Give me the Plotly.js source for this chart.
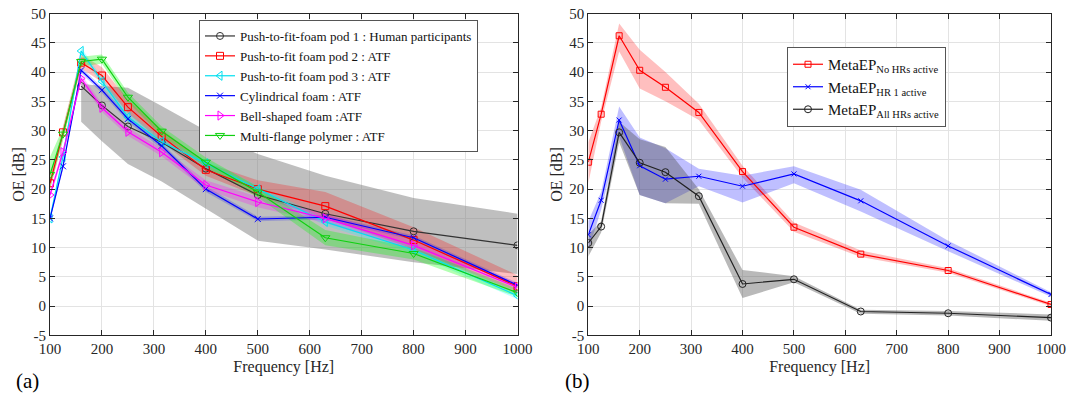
<!DOCTYPE html>
<html>
<head>
<meta charset="utf-8">
<script src="https://cdn.plot.ly/plotly-3.0.1.min.js"></script>
<style>html,body{margin:0;padding:0;background:#fff;}#chart{width:1069px;height:403px;}</style>
</head>
<body>
<div id="chart"></div>
<script>
// Frequencies (Hz)
const freq = [100, 125, 160, 200, 250, 315, 400, 500, 630, 800, 1000];
const freqHuman = [160, 200, 250, 315, 400, 500, 630, 800, 1000];

// Panel (a)
const humanMean  = [37.6, 34.3, 30.7, 28.0, 23.5, 19.0, 15.8, 12.8, 10.4];
const humanUpper = [38.0, 37.6, 37.3, 34.2, 30.0, 26.0, 22.3, 18.5, 15.8];
const humanLower = [31.5, 28.2, 24.3, 21.3, 16.6, 11.2, 9.7, 7.5, 5.5];

const pod2Mean  = [21.0, 29.7, 41.6, 39.4, 34.0, 29.0, 23.3, 20.0, 17.1, 11.3, 3.4];
const pod2Upper = [22.0, 30.7, 43.0, 40.8, 35.3, 30.2, 24.5, 21.5, 19.5, 13.5, 5.3];
const pod2Lower = [20.0, 28.7, 40.6, 38.3, 33.0, 28.0, 22.3, 18.8, 15.0, 9.8, 2.0];

const pod3Mean  = [15.0, 25.5, 43.6, 38.4, 32.3, 28.1, 24.4, 20.0, 14.4, 9.6, 1.8];
const pod3Upper = [15.5, 26.2, 44.2, 39.1, 33.0, 28.7, 25.0, 20.6, 15.0, 10.2, 2.4];
const pod3Lower = [14.5, 24.8, 43.0, 37.7, 31.6, 27.5, 23.8, 19.4, 13.8, 9.0, 1.2];

const cylMean  = [15.0, 23.9, 40.3, 36.9, 32.0, 27.4, 20.0, 14.9, 15.2, 11.7, 3.6];
const cylUpper = [15.4, 24.4, 40.8, 37.4, 32.5, 27.9, 20.5, 15.3, 15.6, 12.1, 4.0];
const cylLower = [14.6, 23.4, 39.8, 36.4, 31.5, 26.9, 19.5, 14.5, 14.8, 11.3, 3.2];

const bellMean  = [19.0, 26.3, 38.9, 33.9, 29.8, 26.3, 20.7, 17.8, 15.0, 10.4, 3.2];
const bellUpper = [19.7, 27.0, 39.6, 34.6, 30.5, 27.0, 21.5, 18.7, 15.8, 11.1, 3.9];
const bellLower = [18.3, 25.6, 38.2, 33.2, 29.1, 25.6, 19.9, 16.9, 14.2, 9.7, 2.5];

const flangeMean  = [22.5, 29.4, 41.8, 42.2, 35.7, 29.9, 24.6, 19.5, 11.7, 9.0, 2.3];
const flangeUpper = [25.5, 30.5, 42.6, 43.0, 36.5, 30.7, 25.4, 20.4, 13.0, 10.0, 3.0];
const flangeLower = [20.0, 28.3, 41.0, 41.4, 34.9, 29.1, 23.8, 18.6, 10.4, 8.0, 1.6];

// Panel (b)
const noHRMean  = [24.6, 32.8, 46.2, 40.3, 37.4, 33.1, 23.0, 13.5, 8.9, 6.1, 0.3];
const noHRUpper = [28.0, 34.0, 48.3, 43.8, 40.0, 34.6, 24.0, 14.3, 9.5, 6.5, 0.6];
const noHRLower = [21.0, 31.5, 43.5, 37.2, 35.0, 31.8, 22.0, 12.7, 8.4, 5.7, 0.0];

const hr1Mean  = [12.2, 18.1, 31.8, 24.0, 21.7, 22.2, 20.5, 22.6, 18.0, 10.3, 2.0];
const hr1Upper = [14.5, 19.5, 34.1, 28.8, 27.0, 23.5, 22.3, 23.9, 19.9, 11.2, 2.4];
const hr1Lower = [9.5, 16.5, 29.0, 19.0, 17.6, 20.5, 17.7, 21.0, 16.2, 9.4, 1.6];

const allHRMean  = [10.8, 13.6, 29.7, 24.5, 22.9, 18.8, 3.8, 4.6, -0.9, -1.2, -1.95];
const allHRUpper = [12.2, 14.5, 31.5, 28.5, 27.2, 20.0, 6.2, 5.1, -0.6, -0.8, -1.4];
const allHRLower = [8.5, 12.6, 28.0, 19.0, 17.6, 17.5, 1.4, 4.1, -1.3, -1.6, -2.5];

const xTicks = [100, 200, 300, 400, 500, 600, 700, 800, 900, 1000];
const yTicks = [-5, 0, 5, 10, 15, 20, 25, 30, 35, 40, 45, 50];

const FONT = 'Liberation Serif';
const AX = '#262626';

function band(x, up, lo, color, xa, ya) {
  return {
    x: x.concat(x.slice().reverse()),
    y: up.concat(lo.slice().reverse()),
    xaxis: xa, yaxis: ya,
    type: 'scatter', mode: 'lines', fill: 'toself',
    fillcolor: color, line: {width: 0}, hoverinfo: 'skip', showlegend: false
  };
}
function line(x, y, name, color, symbol, xa, ya, leg, msize) {
  return {
    x: x, y: y, name: name, xaxis: xa, yaxis: ya, legend: leg,
    type: 'scatter', mode: 'lines+markers',
    line: {color: color, width: 1.2},
    marker: {symbol: symbol, size: msize || 7, color: color, line: {color: color, width: 1}}
  };
}

const traces = [
  band(freqHuman, humanUpper, humanLower, 'rgba(128,128,128,0.5)', 'x', 'y'),
  band(freq, pod2Upper, pod2Lower, 'rgba(255,0,0,0.25)', 'x', 'y'),
  band(freq, pod3Upper, pod3Lower, 'rgba(0,255,255,0.25)', 'x', 'y'),
  band(freq, cylUpper, cylLower, 'rgba(0,0,255,0.2)', 'x', 'y'),
  band(freq, bellUpper, bellLower, 'rgba(255,0,255,0.25)', 'x', 'y'),
  band(freq, flangeUpper, flangeLower, 'rgba(0,255,0,0.3)', 'x', 'y'),
  line(freqHuman, humanMean, 'Push-to-fit-foam pod 1 : Human participants', '#333333', 'circle-open', 'x', 'y', 'legend'),
  line(freq, pod2Mean, 'Push-to-fit foam pod 2 : ATF', '#ff0000', 'square-open', 'x', 'y', 'legend'),
  line(freq, pod3Mean, 'Push-to-fit foam pod 3 : ATF', '#00e0f0', 'triangle-left-open', 'x', 'y', 'legend', 8),
  line(freq, cylMean, 'Cylindrical foam : ATF', '#0000ff', 'x-thin-open', 'x', 'y', 'legend', 6),
  line(freq, bellMean, 'Bell-shaped foam :ATF', '#ff00ff', 'triangle-right-open', 'x', 'y', 'legend', 8),
  line(freq, flangeMean, 'Multi-flange polymer : ATF', '#10d010', 'triangle-down-open', 'x', 'y', 'legend', 8),

  band(freq, noHRUpper, noHRLower, 'rgba(255,0,0,0.25)', 'x2', 'y2'),
  band(freq, hr1Upper, hr1Lower, 'rgba(0,0,255,0.25)', 'x2', 'y2'),
  band(freq, allHRUpper, allHRLower, 'rgba(80,80,80,0.4)', 'x2', 'y2'),
  line(freq, noHRMean, 'MetaEP<sub>No HRs active</sub>', '#ff0000', 'square-open', 'x2', 'y2', 'legend2', 6),
  line(freq, hr1Mean, 'MetaEP<sub>HR 1 active</sub>', '#0000ff', 'x-thin-open', 'x2', 'y2', 'legend2', 5),
  line(freq, allHRMean, 'MetaEP<sub>All HRs active</sub>', '#222222', 'circle-open', 'x2', 'y2', 'legend2', 7)
];

function xax(domain, anchor) {
  return {
    domain: domain, anchor: anchor, range: [100, 1000],
    tickvals: xTicks, ticktext: xTicks.map(String),
    ticks: 'inside', ticklen: 5, tickcolor: AX, mirror: 'ticks',
    showline: true, linecolor: AX, linewidth: 1,
    showgrid: true, gridcolor: '#e3e3e3', zeroline: false,
    tickfont: {family: FONT, size: 15, color: AX},
    title: {text: 'Frequency [Hz]', font: {family: FONT, size: 16, color: AX}, standoff: 4}
  };
}
function yax(anchor) {
  return {
    domain: [0.1675, 0.9665], anchor: anchor, range: [-5, 50],
    tickvals: yTicks, ticktext: yTicks.map(String),
    ticks: 'inside', ticklen: 5, tickcolor: AX, mirror: 'ticks',
    showline: true, linecolor: AX, linewidth: 1,
    showgrid: true, gridcolor: '#e3e3e3', zeroline: false,
    tickfont: {family: FONT, size: 15, color: AX},
    title: {text: 'OE [dB]', font: {family: FONT, size: 16, color: AX}, standoff: 2}
  };
}

const layout = {
  width: 1069, height: 403,
  margin: {l: 0, r: 0, t: 0, b: 0},
  paper_bgcolor: '#fff', plot_bgcolor: '#fff',
  font: {family: FONT, color: AX},
  xaxis: xax([50 / 1069, 517.5 / 1069], 'y'),
  yaxis: yax('x'),
  xaxis2: xax([588.3 / 1069, 1051 / 1069], 'y2'),
  yaxis2: yax('x2'),
  legend: {
    x: 199 / 1069, y: 1 - 20 / 403, xanchor: 'left', yanchor: 'top',
    bgcolor: '#fff', bordercolor: '#555', borderwidth: 1,
    font: {family: FONT, size: 13, color: '#111'}, itemwidth: 30, tracegroupgap: 0
  },
  legend2: {
    x: 787 / 1069, y: 1 - 47 / 403, xanchor: 'left', yanchor: 'top',
    bgcolor: '#fff', bordercolor: '#555', borderwidth: 1,
    font: {family: FONT, size: 15, color: '#111'}, itemwidth: 30
  },
  annotations: [
    {text: '(a)', x: 14 / 1069, y: 1 - 381 / 403, xref: 'paper', yref: 'paper', xanchor: 'left', yanchor: 'middle', showarrow: false, font: {family: FONT, size: 21, color: '#000'}},
    {text: '(b)', x: 563 / 1069, y: 1 - 381 / 403, xref: 'paper', yref: 'paper', xanchor: 'left', yanchor: 'middle', showarrow: false, font: {family: FONT, size: 21, color: '#000'}}
  ],
  showlegend: true
};

Plotly.newPlot('chart', traces, layout, {staticPlot: true, displayModeBar: false});
</script>
</body>
</html>
